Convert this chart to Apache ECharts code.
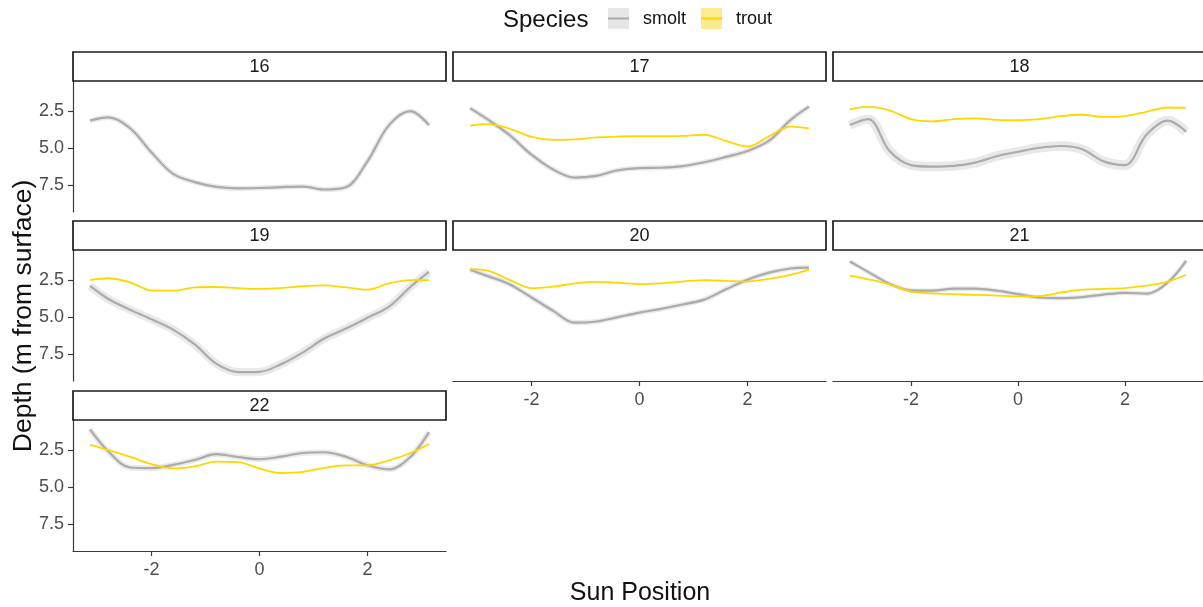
<!DOCTYPE html>
<html>
<head>
<meta charset="utf-8">
<script src="https://cdn.jsdelivr.net/npm/echarts@6/dist/echarts.min.js"></script>
<style>
html,body{margin:0;padding:0;background:#fff;}
#chart{width:1203px;height:607px;}
</style>
</head>
<body>
<div id="chart"></div>
<script>
// ---------------- DATA ----------------
const panels = ['16', '17', '18', '19', '20', '21', '22'];
const xTicks = [-2, 0, 2];
const yTicks = [2.5, 5.0, 7.5];
const sunPos = [-3.14, -2.8, -2.4, -2.0, -1.6, -1.2, -0.8, -0.4, 0, 0.4, 0.8, 1.2, 1.6, 2.0, 2.4, 2.8, 3.14];

const smolt16 = [3.15, 2.93, 3.65, 5.3, 6.75, 7.3, 7.62, 7.72, 7.70, 7.64, 7.6, 7.8, 7.65, 5.9, 3.45, 2.5, 3.45];
const smolt17 = [2.3, 3.1, 4.15, 5.45, 6.45, 7.0, 6.88, 6.5, 6.35, 6.33, 6.22, 5.96, 5.6, 5.2, 4.5, 3.1, 2.2];
const smolt18 = [3.45, 3.05, 5.2, 6.15, 6.25, 6.2, 5.98, 5.55, 5.25, 4.98, 4.86, 5.08, 5.9, 6.15, 4.1, 3.15, 3.9];
const smolt19 = [2.9, 3.78, 4.5, 5.15, 5.85, 6.85, 8.15, 8.72, 8.7, 8.18, 7.4, 6.45, 5.78, 5.05, 4.3, 2.95, 1.95];
const smolt20 = [1.8, 2.25, 2.8, 3.68, 4.58, 5.38, 5.3, 5.0, 4.7, 4.45, 4.15, 3.82, 3.13, 2.48, 2.0, 1.72, 1.66];
const smolt21 = [1.25, 1.95, 2.75, 3.2, 3.22, 3.08, 3.08, 3.22, 3.45, 3.68, 3.72, 3.65, 3.48, 3.36, 3.42, 2.65, 1.2];
const smolt22 = [1.1, 2.6, 3.68, 3.72, 3.5, 3.17, 2.78, 2.97, 3.12, 2.95, 2.7, 2.65, 2.95, 3.53, 3.8, 2.95, 1.3];

const trout16 = null;
const trout17 = [3.48, 3.38, 3.7, 4.25, 4.45, 4.42, 4.28, 4.22, 4.2, 4.2, 4.18, 4.1, 4.52, 4.9, 4.2, 3.55, 3.67];
const trout18 = [2.38, 2.22, 2.45, 3.05, 3.2, 3.05, 3.0, 3.1, 3.12, 3.05, 2.85, 2.75, 2.9, 2.84, 2.55, 2.26, 2.28];
const trout19 = [2.5, 2.38, 2.65, 3.2, 3.22, 3.0, 2.97, 3.05, 3.1, 3.05, 2.92, 2.86, 3.0, 3.15, 2.72, 2.5, 2.5];
const trout20 = [1.76, 1.88, 2.5, 3.05, 2.95, 2.72, 2.62, 2.68, 2.78, 2.72, 2.6, 2.5, 2.55, 2.6, 2.42, 2.15, 1.82];
const trout21 = [2.2, 2.45, 2.8, 3.28, 3.4, 3.45, 3.5, 3.55, 3.6, 3.58, 3.35, 3.15, 3.1, 3.04, 2.88, 2.6, 2.14];
const trout22 = [2.15, 2.5, 2.95, 3.45, 3.74, 3.6, 3.28, 3.32, 3.75, 4.05, 3.98, 3.7, 3.53, 3.53, 3.2, 2.7, 2.09];

// standard error of the smolt smooth (half-width of grey band, in metres), per panel
const smoltSE = [0.1, 0.1, 0.25, 0.2, 0.1, 0.08, 0.12];

const smoltSeries = [smolt16, smolt17, smolt18, smolt19, smolt20, smolt21, smolt22];
const troutSeries = [trout16, trout17, trout18, trout19, trout20, trout21, trout22];

// ---------------- LAYOUT ----------------
const colLeft = [73, 453, 833];
const panelW = 373;
const stripTop = [52, 221, 391];
const stripH = 29;
const plotH = 131;
const X_MIN = -3.456, X_MAX = 3.456;
const Y_MIN = 0.47, Y_MAX = 9.32;
const pxPerUnit = plotH / (Y_MAX - Y_MIN);

const FONT = 'Liberation Sans, Arial, sans-serif';
const SMOLT = '#ABABAB';
const BAND = '#E9E9E9';
const TROUT = '#FFD700';
const AXIS = '#3a3a3a';
const TICKTXT = '#4D4D4D';

const grids = [], xAxes = [], yAxes = [], series = [], graphics = [];

panels.forEach((p, i) => {
  const col = i % 3, row = Math.floor(i / 3);
  const left = colLeft[col];
  const top = stripTop[row] + stripH;
  grids.push({left: left, top: top, width: panelW, height: plotH, containLabel: false});
  const showX = (i >= 4);
  const showY = (col === 0);
  xAxes.push({
    type: 'value', gridIndex: i, min: X_MIN, max: X_MAX,
    splitLine: {show: false},
    axisLine: {show: showX, onZero: false, lineStyle: {color: AXIS, width: 1.2}},
    axisTick: {show: showX, length: 5, customValues: xTicks, lineStyle: {color: AXIS, width: 1.2}},
    axisLabel: {show: showX, customValues: xTicks, margin: 10, color: TICKTXT, fontSize: 18, fontFamily: FONT,
      formatter: v => String(v)}
  });
  yAxes.push({
    type: 'value', gridIndex: i, min: Y_MIN, max: Y_MAX, inverse: true,
    splitLine: {show: false},
    axisLine: {show: showY, onZero: false, lineStyle: {color: AXIS, width: 1.2}},
    axisTick: {show: showY, length: 5, customValues: yTicks, lineStyle: {color: AXIS, width: 1.2}},
    axisLabel: {show: showY, customValues: yTicks, margin: 9, color: TICKTXT, fontSize: 18, fontFamily: FONT,
      formatter: v => v.toFixed(1)}
  });

  const s = smoltSeries[i];
  const smoltData = sunPos.map((x, j) => [x, s[j]]);
  // confidence band: a wide pale stroke under the smolt line
  series.push({
    type: 'line', xAxisIndex: i, yAxisIndex: i, smooth: 0.35,
    symbol: 'none', silent: true,
    lineStyle: {color: BAND, width: 2 * smoltSE[i] * pxPerUnit + 2.2, cap: 'butt', join: 'round'},
    data: smoltData
  });
  series.push({
    name: 'smolt', type: 'line', xAxisIndex: i, yAxisIndex: i, smooth: 0.35,
    symbol: 'none', silent: true, lineStyle: {color: SMOLT, width: 2.2},
    data: smoltData
  });
  const t = troutSeries[i];
  if (t) {
    series.push({
      name: 'trout', type: 'line', xAxisIndex: i, yAxisIndex: i, smooth: 0.35,
      symbol: 'none', silent: true, lineStyle: {color: TROUT, width: 1.8},
      data: sunPos.map((x, j) => [x, t[j]])
    });
  }

  // facet strip
  graphics.push({
    type: 'rect', shape: {x: left, y: stripTop[row], width: panelW, height: stripH},
    style: {fill: '#fff', stroke: '#1a1a1a', lineWidth: 1.7}, z: 10
  });
  graphics.push({
    type: 'text', x: left + panelW / 2, y: stripTop[row] + stripH / 2 + 1,
    style: {text: p, fill: '#1a1a1a', font: '18px ' + FONT, textAlign: 'center', textVerticalAlign: 'middle'}, z: 11
  });
});

// axis titles
graphics.push({
  type: 'text', x: 640, y: 593,
  style: {text: 'Sun Position', fill: '#111', font: '25px ' + FONT, textAlign: 'center', textVerticalAlign: 'middle'}
});
graphics.push({
  type: 'text', x: 24, y: 316, rotation: Math.PI / 2,
  style: {text: 'Depth (m from surface)', fill: '#111', font: '26.5px ' + FONT, textAlign: 'center', textVerticalAlign: 'middle'}
});

// legend
graphics.push({
  type: 'text', x: 503, y: 20,
  style: {text: 'Species', fill: '#111', font: '24px ' + FONT, textAlign: 'left', textVerticalAlign: 'middle'}
});
graphics.push({type: 'rect', shape: {x: 608, y: 8, width: 21, height: 21}, style: {fill: '#E6E6E6'}});
graphics.push({type: 'line', shape: {x1: 608, y1: 18.5, x2: 629, y2: 18.5}, style: {stroke: SMOLT, lineWidth: 2}});
graphics.push({
  type: 'text', x: 643, y: 19,
  style: {text: 'smolt', fill: '#111', font: '18px ' + FONT, textAlign: 'left', textVerticalAlign: 'middle'}
});
graphics.push({type: 'rect', shape: {x: 701, y: 8, width: 21, height: 21}, style: {fill: '#FDEB90'}});
graphics.push({type: 'line', shape: {x1: 701, y1: 18.5, x2: 722, y2: 18.5}, style: {stroke: TROUT, lineWidth: 2}});
graphics.push({
  type: 'text', x: 736, y: 19,
  style: {text: 'trout', fill: '#111', font: '18px ' + FONT, textAlign: 'left', textVerticalAlign: 'middle'}
});

const chart = echarts.init(document.getElementById('chart'), null, {renderer: 'canvas'});
chart.setOption({
  animation: false,
  backgroundColor: '#fff',
  grid: grids,
  xAxis: xAxes,
  yAxis: yAxes,
  series: series,
  graphic: graphics
});
</script>
</body>
</html>
